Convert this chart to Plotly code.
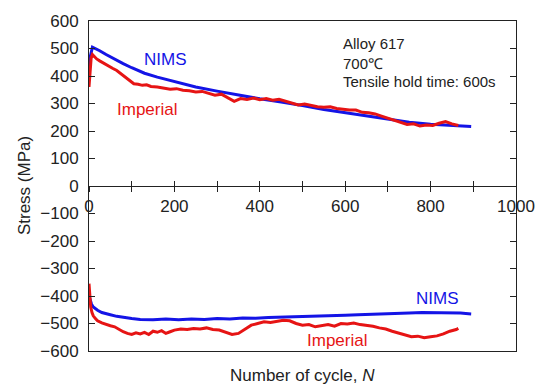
import plotly.graph_objects as go

# Upper (tensile peak) NIMS
n_nims_t = [0, 3, 8, 15, 25, 40, 60, 80, 100, 130, 160, 200, 250, 300, 350, 400, 450, 500,
            550, 600, 650, 700, 750, 800, 850, 895]
s_nims_t = [400, 470, 505, 500, 492, 478, 460, 445, 430, 410, 396, 380, 360, 345, 330, 317, 305, 293,
            278, 266, 254, 242, 232, 225, 220, 216]

# Upper (tensile peak) Imperial
n_imp_t = [0, 2, 5, 8, 12, 18, 25, 35, 45, 55, 65, 75, 85, 95, 105, 115, 125, 135, 145, 160, 175,
           190, 205, 220, 235, 250, 265, 280, 295, 310, 325, 340, 355, 370, 385, 400, 415, 430, 445,
           460, 475, 490, 505, 520, 535, 550, 565, 580, 595, 610, 625, 640, 655, 670, 685, 700, 715,
           730, 745, 760, 775, 790, 805, 820, 835, 850, 865]
s_imp_t = [360, 420, 465, 478, 470, 462, 455, 445, 438, 428, 420, 408, 398, 386, 372, 370, 366, 368,
           362, 360, 355, 352, 354, 348, 346, 342, 344, 336, 330, 334, 322, 308, 318, 315, 320, 314,
           318, 312, 315, 308, 302, 295, 298, 292, 288, 286, 288, 282, 278, 276, 276, 268, 266, 262,
           254, 246, 238, 230, 224, 226, 218, 222, 220, 228, 234, 226, 220]

# Lower (compressive peak) NIMS
n_nims_c = [0, 3, 6, 10, 15, 20, 30, 40, 50, 65, 80, 100, 120, 150, 180, 210, 240, 270, 300, 330,
            360, 390, 420, 450, 480, 510, 540, 570, 600, 630, 660, 690, 720, 750, 780, 810, 840,
            870, 895]
s_nims_c = [-400, -418, -430, -440, -447, -452, -460, -465, -468, -474, -478, -482, -485, -486,
            -484, -486, -484, -485, -482, -484, -480, -481, -478, -477, -476, -474, -472, -473,
            -470, -468, -467, -465, -463, -462, -460, -461, -460, -462, -465]

# Lower (compressive peak) Imperial
n_imp_c = [0, 2, 4, 7, 10, 15, 20, 30, 40, 50, 60, 70, 80, 90, 100, 110, 120, 130, 140, 150, 160,
           170, 180, 190, 200, 215, 230, 245, 260, 275, 290, 305, 320, 335, 350, 365, 380, 395, 410,
           425, 440, 455, 470, 485, 500, 515, 530, 545, 560, 575, 590, 605, 620, 635, 650, 665, 680,
           695, 710, 725, 740, 755, 770, 785, 800, 815, 830, 845, 860, 865]
s_imp_c = [-355, -390, -440, -460, -472, -482, -490, -498, -504, -508, -512, -522, -530, -536,
           -540, -534, -538, -532, -540, -528, -532, -526, -536, -530, -524, -520, -522, -518,
           -520, -516, -522, -524, -532, -540, -536, -520, -506, -500, -494, -496, -492, -488,
           -490, -500, -506, -504, -512, -508, -504, -510, -500, -502, -498, -504, -506, -510,
           -516, -520, -528, -534, -540, -548, -546, -552, -548, -545, -538, -528, -522, -518]

x_ticks = [0, 100, 200, 300, 400, 500, 600, 700, 800, 900, 1000]
x_tick_text = ["0", "", "200", "", "400", "", "600", "", "800", "", "1000"]
y_ticks = [-600, -500, -400, -300, -200, -100, 0, 100, 200, 300, 400, 500, 600]

BLUE = "#1414e6"
RED = "#e61414"
FONT = "Liberation Sans, Arial, sans-serif"

fig = go.Figure()
fig.add_trace(go.Scatter(x=n_nims_t, y=s_nims_t, mode="lines", line=dict(color=BLUE, width=3),
                         xaxis="x2", yaxis="y", showlegend=False))
fig.add_trace(go.Scatter(x=n_imp_t, y=s_imp_t, mode="lines", line=dict(color=RED, width=3),
                         xaxis="x2", yaxis="y", showlegend=False))
fig.add_trace(go.Scatter(x=n_nims_c, y=s_nims_c, mode="lines", line=dict(color=BLUE, width=3),
                         xaxis="x3", yaxis="y", showlegend=False))
fig.add_trace(go.Scatter(x=n_imp_c, y=s_imp_c, mode="lines", line=dict(color=RED, width=3),
                         xaxis="x3", yaxis="y", showlegend=False))

plot_w = 547 - 89 - 24

fig.update_layout(
    width=547, height=387,
    margin=dict(l=89, r=24, t=16, b=36),
    paper_bgcolor="white", plot_bgcolor="white",
    font=dict(family=FONT, size=17, color="#222"),
    xaxis=dict(range=[0, 1000], showline=True, mirror=True, linecolor="#222", linewidth=1,
               ticks="", showticklabels=False, showgrid=False, zeroline=False),
    xaxis2=dict(range=[0, 1000], overlaying="x", anchor="free", position=0.5,
                showline=True, linecolor="#222", linewidth=1,
                tickvals=x_ticks, ticktext=x_tick_text, ticks="outside", ticklen=5,
                tickcolor="#222", showgrid=False, zeroline=False,
                tickfont=dict(family=FONT, size=17, color="#222")),
    xaxis3=dict(range=[0, 1000], overlaying="x", anchor="free", position=0.5,
                showline=False, tickvals=x_ticks, ticks="inside", ticklen=5,
                tickcolor="#222", showticklabels=False, showgrid=False, zeroline=False),
    yaxis=dict(range=[-600, 600], tickvals=y_ticks, ticks="inside", ticklen=6,
               tickcolor="#222", showline=True, mirror="ticks", linecolor="#222", linewidth=1,
               showgrid=False, zeroline=False, ticklabelstandoff=6,
               tickfont=dict(family=FONT, size=17, color="#222")),
    annotations=[
        dict(text="Stress (MPa)", x=(23 - 89) / plot_w, xref="paper", y=0.5, yref="paper",
             showarrow=False, textangle=-90, font=dict(size=17), xanchor="center",
             yanchor="middle"),
        dict(text="Number of cycle, <i>N</i>", x=0.5, xref="paper", y=-0.075, yref="paper",
             showarrow=False, font=dict(size=17), xanchor="center", yanchor="middle"),
        dict(text="Alloy 617", x=590, xref="x", y=520, yref="y", showarrow=False,
             font=dict(size=15), xanchor="left", yanchor="middle"),
        dict(text="700℃", x=590, xref="x", y=445, yref="y", showarrow=False,
             font=dict(size=15), xanchor="left", yanchor="middle"),
        dict(text="Tensile hold time: 600s", x=590, xref="x", y=380, yref="y", showarrow=False,
             font=dict(size=15), xanchor="left", yanchor="middle"),
        dict(text="NIMS", x=180, xref="x", y=460, yref="y", showarrow=False,
             font=dict(size=17, color=BLUE), xanchor="center", yanchor="middle"),
        dict(text="Imperial", x=135, xref="x", y=277, yref="y", showarrow=False,
             font=dict(size=17, color=RED), xanchor="center", yanchor="middle"),
        dict(text="NIMS", x=817, xref="x", y=-410, yref="y", showarrow=False,
             font=dict(size=17, color=BLUE), xanchor="center", yanchor="middle"),
        dict(text="Imperial", x=580, xref="x", y=-562, yref="y", showarrow=False,
             font=dict(size=17, color=RED), xanchor="center", yanchor="middle"),
    ],
)

fig.write_html("out.html")
